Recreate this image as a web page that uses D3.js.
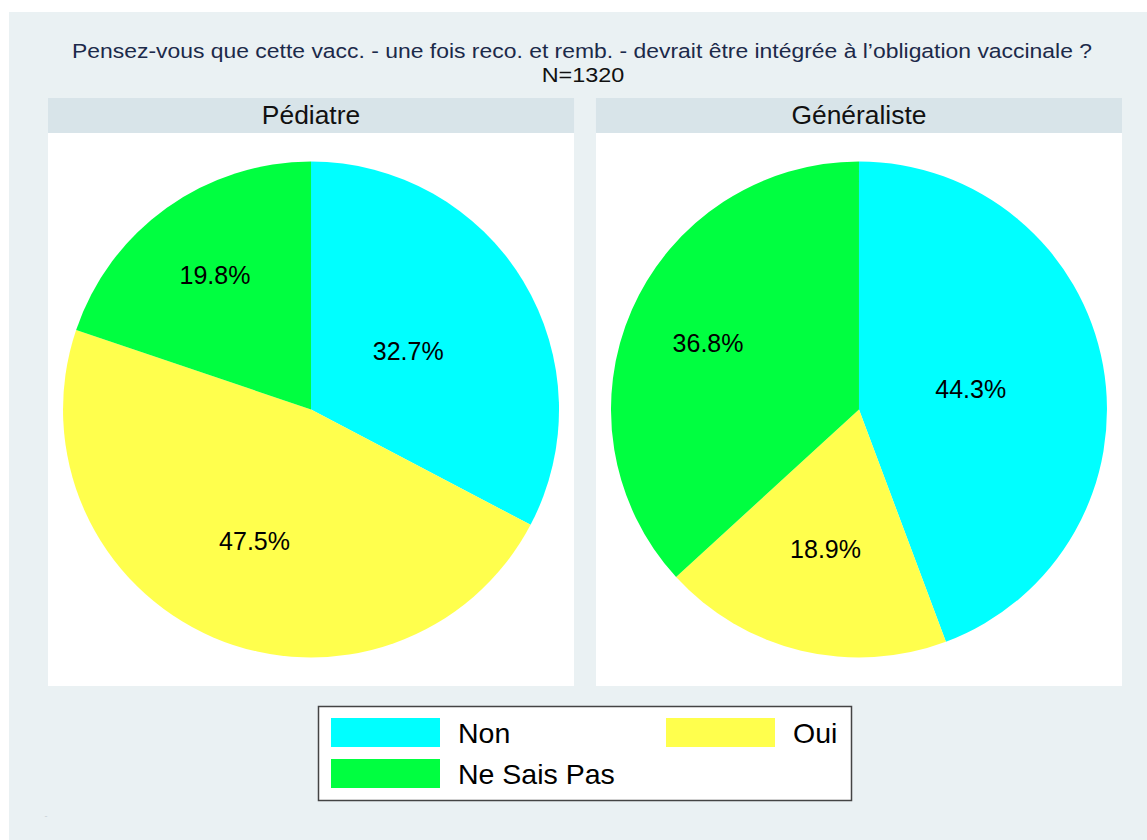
<!DOCTYPE html>
<html>
<head>
<meta charset="utf-8">
<script src="https://cdn.jsdelivr.net/npm/d3@7"></script>
<style>
  html, body { margin: 0; padding: 0; background: #fff; }
  svg { display: block; font-family: "Liberation Sans", Arial, Helvetica, sans-serif; }
</style>
</head>
<body>
<svg id="chart" width="1147" height="840"></svg>
<script>
// data
const categories = ["Non", "Oui", "Ne Sais Pas"]
const panels = ["Pédiatre", "Généraliste"]
const pediatre = [32.7, 47.5, 19.8]
const generaliste = [44.3, 18.9, 36.8]
const seriesValues = [pediatre, generaliste]

const title = "Pensez-vous que cette vacc. - une fois reco. et remb. - devrait être intégrée à l’obligation vaccinale ?"
const subtitle = "N=1320"

// styles
const colors = d3.scaleOrdinal().domain(categories).range(["#00ffff", "#ffff4d", "#00ff40"])
const labelRadius = [0.458, 0.578, 0.665] // Stata pushes later labels further out

const svg = d3.select("#chart")
const W = 1147, H = 840

svg.append("rect")
    .attr("x", 9).attr("y", 12)
    .attr("width", W - 9).attr("height", H - 12)
    .attr("fill", "#eaf1f3")

// title is a bit wide and flat in the original, so stretch it sideways
svg.append("text")
    .attr("transform", "translate(582,58) scale(1.176,1)")
    .attr("text-anchor", "middle")
    .attr("font-size", 19.5)
    .attr("fill", "#1c2a4a")
    .text(title)

svg.append("text")
    .attr("transform", "translate(583,82) scale(1.2,1)")
    .attr("text-anchor", "middle")
    .attr("font-size", 19.5)
    .attr("fill", "#111")
    .text(subtitle)

// panels
const panelX = d3.scaleBand().domain(panels).range([48, 1122]).paddingInner(0.04)
const headerTop = 98, headerBottom = 133, plotBottom = 686
const radius = 248

const pie = d3.pie().sort(null).value(d => d.value)
const arc = d3.arc().innerRadius(0).outerRadius(radius)

panels.forEach((name, i) => {
    const x0 = panelX(name)
    const bw = panelX.bandwidth()
    const g = svg.append("g")

    g.append("rect")
        .attr("x", x0).attr("y", headerTop)
        .attr("width", bw).attr("height", headerBottom - headerTop)
        .attr("fill", "#d8e4e9")

    g.append("text")
        .attr("x", x0 + bw / 2).attr("y", headerTop + 26)
        .attr("text-anchor", "middle")
        .attr("font-size", 26.4)
        .attr("fill", "#111")
        .text(name)

    g.append("rect")
        .attr("x", x0).attr("y", headerBottom)
        .attr("width", bw).attr("height", plotBottom - headerBottom)
        .attr("fill", "#fff")

    const cx = x0 + bw / 2
    const cy = (headerBottom + plotBottom) / 2
    const pg = g.append("g").attr("transform", `translate(${cx},${cy})`)

    const arcs = pie(categories.map((c, k) => ({ cat: c, value: seriesValues[i][k] })))

    pg.selectAll("path")
        .data(arcs)
        .join("path")
        .attr("d", arc)
        .attr("fill", d => colors(d.data.cat))

    pg.selectAll("text")
        .data(arcs)
        .join("text")
        .attr("transform", (d, k) => {
            const a = (d.startAngle + d.endAngle) / 2
            const r = radius * labelRadius[k]
            return `translate(${Math.sin(a) * r},${-Math.cos(a) * r})`
        })
        .attr("text-anchor", "middle")
        .attr("dy", "0.36em")
        .attr("font-size", 25)
        .attr("fill", "#000")
        .text(d => d.data.value.toFixed(1) + "%")
})

// legend
const legend = svg.append("g")
legend.append("rect")
    .attr("x", 318.5).attr("y", 706.5)
    .attr("width", 533).attr("height", 94)
    .attr("fill", "#fff")
    .attr("stroke", "#444")
    .attr("stroke-width", 1.5)

const legendCol = d3.scalePoint().domain([0, 1]).range([331, 666])
const legendRow = d3.scalePoint().domain([0, 1]).range([718, 759])

const items = legend.selectAll("g.item")
    .data(categories)
    .join("g")
    .attr("class", "item")
    .attr("transform", (d, k) => `translate(${legendCol(k % 2)},${legendRow(Math.floor(k / 2))})`)

items.append("rect")
    .attr("width", 109).attr("height", 29)
    .attr("fill", d => colors(d))

items.append("text")
    .attr("x", 127).attr("y", 25)
    .attr("font-size", 28.5)
    .attr("fill", "#000")
    .text(d => d)

svg.append("text")
    .attr("x", 46).attr("y", 819)
    .attr("text-anchor", "middle")
    .attr("font-size", 9)
    .attr("fill", "#c8d0d4")
    .text("-")
</script>
</body>
</html>
